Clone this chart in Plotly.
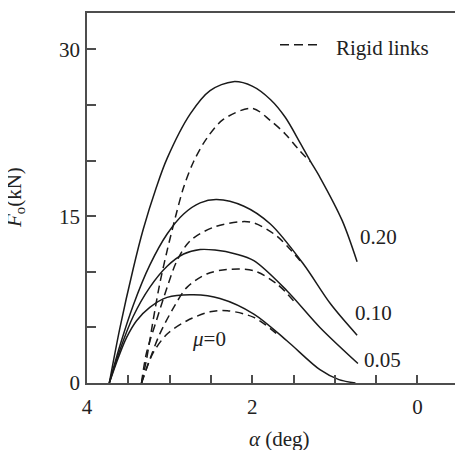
import plotly.graph_objects as go

# ---- data ----
mu_labels = ["0.20", "0.10", "0.05", "0"]

x_solid_020 = [3.73, 3.60, 3.44, 3.32, 3.16, 3.03, 2.75, 2.51, 2.23, 2.00, 1.78, 1.60, 1.42, 1.30, 1.18, 0.91, 0.73]
y_solid_020 = [0.0, 5.0, 10.3, 13.8, 17.6, 20.2, 24.2, 26.3, 27.1, 26.7, 25.5, 23.9, 21.6, 20.0, 18.5, 14.6, 10.9]
x_dash_020 = [3.34, 3.28, 3.20, 3.12, 3.03, 2.93, 2.83, 2.71, 2.55, 2.35, 2.00, 1.78, 1.60, 1.45, 1.30]
y_dash_020 = [0.0, 2.1, 5.6, 8.9, 11.9, 14.9, 17.6, 19.9, 22.0, 23.7, 24.7, 23.6, 22.4, 21.1, 19.9]

x_solid_010 = [3.73, 3.60, 3.44, 3.24, 3.03, 2.83, 2.63, 2.43, 2.10, 1.78, 1.38, 1.05, 0.73]
y_solid_010 = [0.0, 3.4, 7.0, 10.6, 13.4, 15.2, 16.2, 16.5, 15.9, 14.3, 10.7, 7.1, 4.3]
x_dash_010 = [3.34, 3.28, 3.16, 3.03, 2.91, 2.75, 2.47, 2.15, 1.98, 1.70, 1.42]
y_dash_010 = [0.0, 2.7, 5.6, 8.6, 11.0, 12.8, 14.0, 14.5, 14.4, 13.2, 11.0]

x_solid_005 = [3.73, 3.60, 3.44, 3.24, 3.03, 2.83, 2.63, 2.45, 2.20, 1.98, 1.58, 1.18, 0.72]
y_solid_005 = [0.0, 3.0, 6.0, 8.6, 10.5, 11.6, 12.0, 11.95, 11.6, 11.0, 8.3, 5.0, 1.76]
x_dash_005 = [3.34, 3.24, 3.12, 2.95, 2.79, 2.55, 2.31, 1.98, 1.70, 1.50]
y_dash_005 = [0.0, 2.1, 4.4, 6.8, 8.6, 9.8, 10.2, 10.1, 8.9, 7.4]

x_solid_000 = [3.73, 3.62, 3.52, 3.40, 3.24, 3.03, 2.71, 2.39, 1.98, 1.58, 1.18, 0.95, 0.75]
y_solid_000 = [0.0, 2.3, 4.1, 5.6, 6.8, 7.7, 7.93, 7.6, 6.2, 3.8, 1.2, 0.3, 0.0]
x_dash_000 = [3.34, 3.20, 3.03, 2.79, 2.51, 2.30, 1.98, 1.70]
y_dash_000 = [0.0, 2.7, 4.4, 5.6, 6.4, 6.5, 5.9, 4.4]

x_tickvals = [4, 2, 0]
y_tickvals = [0, 15, 30]

# label anchor positions (data coords)
label_x = [0.72, 0.78, 0.67]
label_y = [13.1, 6.3, 2.1]

FONT = "Liberation Serif"
INK = "#1a1a1a"
AX = "#4d4d4d"

fig = go.Figure()

solids = [(x_solid_020, y_solid_020), (x_solid_010, y_solid_010),
          (x_solid_005, y_solid_005), (x_solid_000, y_solid_000)]
dashes = [(x_dash_020, y_dash_020), (x_dash_010, y_dash_010),
          (x_dash_005, y_dash_005), (x_dash_000, y_dash_000)]

for (xs, ys) in solids:
    fig.add_trace(go.Scatter(x=xs, y=ys, mode="lines",
                             line=dict(color=INK, width=1.5, shape="spline", smoothing=0.9),
                             showlegend=False, hoverinfo="skip"))
for (xs, ys) in dashes:
    fig.add_trace(go.Scatter(x=xs, y=ys, mode="lines",
                             line=dict(color=INK, width=1.5, shape="spline", smoothing=0.9, dash="8px,5px"),
                             showlegend=False, hoverinfo="skip"))

TF = dict(family=FONT, size=21, color="#222")
annotations = []
for lab, lx, ly in zip(mu_labels[:3], label_x, label_y):
    annotations.append(dict(x=lx, y=ly, xref="x", yref="y", text=lab, showarrow=False,
                            xanchor="left", yanchor="middle", font=TF))
annotations.append(dict(x=2.75, y=4.0, xref="x", yref="y", text="<i>μ</i>=" + mu_labels[3],
                        showarrow=False, xanchor="left", yanchor="middle", font=TF))
# legend text
annotations.append(dict(x=1, y=1, xref="paper", yref="paper", xshift=-129, yshift=-35,
                        text="Rigid links", showarrow=False, xanchor="left", yanchor="middle", font=TF))
# axis titles
annotations.append(dict(x=0.5, y=0, xref="paper", yref="paper", xshift=4, yshift=-56,
                        text="<i>α</i> (deg)", showarrow=False, xanchor="center", yanchor="middle", font=TF))
annotations.append(dict(x=0, y=0.5, xref="paper", yref="paper", xshift=-72,
                        text="<i>F</i><sub>o</sub>(kN)", showarrow=False, textangle=-90,
                        xanchor="center", yanchor="middle", font=TF))

shapes = [dict(type="line", xref="paper", yref="paper",
               x0=(280 - 87) / 376, x1=(318 - 87) / 376,
               y0=(383 - 43) / 372, y1=(383 - 43) / 372,
               line=dict(color=INK, width=1.5, dash="9px,5px"))]

fig.update_layout(
    width=463, height=450,
    margin=dict(l=79, r=8, t=3, b=75),
    paper_bgcolor="white", plot_bgcolor="white",
    font=dict(family=FONT, size=21, color="#222"),
    showlegend=False,
    annotations=annotations,
    shapes=shapes,
    xaxis=dict(range=[4, 4 - 376 / 82.6], tickvals=x_tickvals, ticktext=[str(v) for v in x_tickvals],
               ticks="inside", ticklen=8, tickwidth=1.5, tickcolor=AX,
               minor=dict(dtick=0.5, tick0=0, ticks="inside", ticklen=8, tickwidth=1.5, tickcolor=AX),
               showline=True, linecolor=AX, linewidth=1.7, mirror=True,
               showgrid=False, zeroline=False, ticklabelstandoff=4,
               tickfont=TF),
    yaxis=dict(range=[0, 372 / 11.18], tickvals=y_tickvals, ticktext=[str(v) for v in y_tickvals],
               ticks="inside", ticklen=9, tickwidth=1.5, tickcolor=AX,
               minor=dict(dtick=5, tick0=0, ticks="inside", ticklen=9, tickwidth=1.5, tickcolor=AX),
               showline=True, linecolor=AX, linewidth=1.7,
               showgrid=False, zeroline=False, ticklabelstandoff=1,
               tickfont=TF),
)

fig.write_html("out.html")
